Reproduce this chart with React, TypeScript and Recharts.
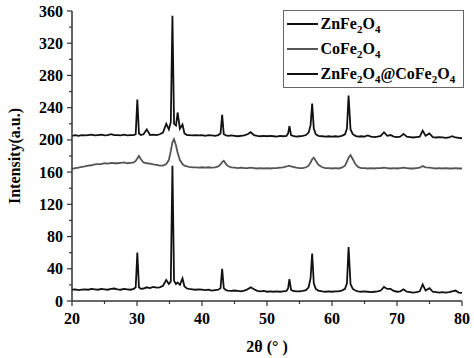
import { LineChart, Line, XAxis, YAxis, Legend } from "recharts";

document.body.style.margin = "0";

// 2θ positions (deg), shared by all three patterns
const twoTheta = [
  20, 20.5, 21, 21.5, 22, 22.5, 23, 23.5, 24, 24.5, 25, 25.5, 26, 26.5, 27, 27.5, 28, 28.5, 29, 29.5,
  29.8, 30.05, 30.3, 30.6,
  31, 31.5, 32, 32.5, 33, 33.5, 34, 34.5, 34.9,
  35.2, 35.45, 35.7, 36.0, 36.25, 36.6, 37.0, 37.3, 37.7,
  38, 38.5, 39, 39.5, 40, 40.5, 41, 41.5, 42, 42.5,
  42.85, 43.1, 43.35, 43.7,
  44, 44.5, 45, 45.5, 46, 46.5, 47, 47.5, 48, 48.5, 49, 49.5, 50, 50.5, 51, 51.5, 52, 52.5, 53,
  53.25, 53.45, 53.7,
  54, 54.5, 55, 55.5, 56, 56.4, 56.7, 56.95, 57.2, 57.5, 57.9,
  58.5, 59, 59.5, 60, 60.5, 61, 61.5, 62,
  62.3, 62.55, 62.85, 63.2, 63.6,
  64, 64.5, 65, 65.5, 66, 66.5, 67, 67.5, 68, 68.5, 69, 69.5, 70, 70.5, 71, 71.5, 72, 72.5, 73, 73.5,
  73.95, 74.4, 75, 75.5, 76, 76.5, 77, 77.5, 78, 78.5, 79, 79.5, 80,
];

const znFe2O4 = [
  205, 206, 205, 206, 205.5, 206, 206.5, 205.5, 206, 206.5, 205.5, 206, 207, 206, 206, 205.5, 206.5, 205.5, 206, 206,
  207, 250, 208, 206,
  207, 213, 206, 206.5, 206, 207, 209, 220, 213,
  222, 354, 220, 218, 234, 214, 219, 208, 206,
  206, 205.5, 206, 205.5, 206, 205, 206, 205.5, 205, 206,
  208, 231, 207, 205.5,
  205, 205.5, 205, 204.5, 205, 205.5, 207, 209.5, 206, 205, 204.5, 205, 204.5, 205, 204.5, 204, 205, 204.5, 205,
  208, 217, 206,
  205, 204, 204.5, 205, 206, 209, 218, 245, 214, 207, 205,
  204.5, 204, 204.5, 204, 204.5, 204, 205, 207,
  214, 255, 213, 207, 205,
  204, 204.5, 204, 205.5, 204, 203.5, 204, 205, 209.5, 205, 206, 204, 203.5, 204, 207.5, 204, 203.5, 203, 203.5, 204,
  211.5, 205, 208, 203.5, 203, 203.5, 203, 202.5, 203, 204.5, 203, 202.5, 202,
];

const coFe2O4 = [
  164, 165, 165.5, 166.5, 167, 168, 168.5, 169.5, 170, 170, 171, 170.5, 171.5, 171, 171, 171.5, 172, 171, 171.5, 172,
  174, 177, 180, 176,
  172, 171, 170.5, 169.5, 169, 168, 168, 170, 175,
  186, 197, 201, 193, 184, 175, 170, 168, 167,
  166.5, 166, 166, 165.5, 166, 165.5, 166, 165.5, 166, 167,
  169.5, 172.5, 174, 170,
  167.5, 166, 165.5, 165, 165.5, 165, 165, 165.5, 165, 164.5, 165, 164.5, 165, 164.5, 165, 165, 165.5, 166, 167,
  167.5, 168, 167,
  166.5, 165.5, 165, 165, 166, 168, 172, 176, 178, 174, 169,
  166, 165, 165, 164.5, 165, 164.5, 165.5, 168,
  173, 178, 181, 176, 170,
  166.5, 165, 165, 164.5, 165, 164.5, 165, 165, 165.5, 165, 164.5, 165, 164.5, 165, 165.5, 165, 164.5, 164.5, 165, 165.5,
  167.5, 166, 165.5, 165, 164.5, 165, 164.5, 165, 164.5, 164.5, 165, 164.5, 164.5,
];

const znFe2O4CoFe2O4 = [
  14, 14.5, 13.5, 14, 14.5, 14, 15, 14.5, 14, 15, 14.5, 14, 15, 15.5, 14.5, 14, 15, 14.5, 14, 15,
  17, 60, 17, 15,
  15.5, 17, 16, 17.5, 16.5, 17, 19, 26, 21,
  24, 168, 25, 21, 23, 20, 28, 18, 15.5,
  15, 14.5, 14, 14.5, 14, 13.5, 14, 13, 13.5, 14,
  16, 40, 16, 13.5,
  13, 12.5, 13, 12.5, 12, 13, 14.5, 17, 14.5, 12.5, 12, 12.5, 11.5, 12, 11.5, 12, 11.5, 12, 12.5,
  16, 27, 14,
  12.5, 12, 12, 12.5, 13.5, 17, 28, 59, 22, 15, 13,
  12, 11.5, 12, 11.5, 12, 12, 13, 15,
  22, 67, 21, 15, 13,
  12, 11.5, 12, 11.5, 11, 11.5, 12, 13, 17.5, 15, 15, 12.5, 11.5, 12, 14.5, 11.5, 11, 10.5, 11, 12,
  20.5, 13, 16, 11.5, 11, 10.5, 11, 10.5, 11, 12, 13, 10.5, 10,
];

const seriesNames = ["ZnFe2O4", "CoFe2O4", "ZnFe2O4@CoFe2O4"];
const seriesColors = ["#111", "#555", "#111"];

const xTicks = [20, 25, 30, 35, 40, 45, 50, 55, 60, 65, 70, 75, 80];
const yTicks = [0, 20, 40, 60, 80, 100, 120, 140, 160, 180, 200, 220, 240, 260, 280, 300, 320, 340, 360];

const data = twoTheta.map((t, i) => ({
  t,
  zn: znFe2O4[i],
  co: coFe2O4[i],
  zc: znFe2O4CoFe2O4[i],
}));

const FONT = '"Liberation Serif", "Times New Roman", serif';
const AXIS = "#333";

function XTick({ x, y, payload }: any) {
  const major = payload.value % 10 === 0;
  return (
    <g>
      <line x1={x} x2={x} y1={y} y2={y + (major ? 5 : 3)} stroke={AXIS} strokeWidth={1.2} />
      {major && (
        <text x={x} y={y + 23} textAnchor="middle" fontFamily={FONT} fontWeight="bold" fontSize={16} fill="#000">
          {payload.value}
        </text>
      )}
    </g>
  );
}

function YTick({ x, y, payload }: any) {
  const major = payload.value % 40 === 0;
  return (
    <g>
      <line x1={x} x2={x - (major ? 5 : 3)} y1={y} y2={y} stroke={AXIS} strokeWidth={1.2} />
      {major && (
        <text x={x - 9} y={y} dy="0.35em" textAnchor="end" fontFamily={FONT} fontWeight="bold" fontSize={16} fill="#000">
          {payload.value}
        </text>
      )}
    </g>
  );
}

function Formula({ text }: { text: string }) {
  const parts = text.split(/(\d)/).filter((p) => p !== "");
  return (
    <span>
      {parts.map((p, i) =>
        /\d/.test(p) ? (
          <sub key={i} style={{ fontSize: 11, verticalAlign: "-4px", lineHeight: 0 }}>
            {p}
          </sub>
        ) : (
          <span key={i}>{p}</span>
        )
      )}
    </span>
  );
}

function LegendBox() {
  return (
    <div
      style={{
        boxSizing: "border-box",
        width: 181,
        height: 78,
        border: "1.5px solid #666",
        background: "#fff",
        fontFamily: FONT,
        fontWeight: "bold",
        fontSize: 16,
        color: "#000",
      }}
    >
      {seriesNames.map((name, i) => (
        <div key={name} style={{ display: "flex", alignItems: "center", height: 25 }}>
          <div style={{ width: 31, height: 2, marginLeft: 2.5, background: seriesColors[i] }} />
          <div style={{ marginLeft: 3, lineHeight: "16px" }}>
            <Formula text={name} />
          </div>
        </div>
      ))}
    </div>
  );
}

export default function App() {
  return (
    <LineChart width={474} height={358} data={data} margin={{ top: 11, right: 12, bottom: 0, left: 0 }}>
      <XAxis
        dataKey="t"
        type="number"
        domain={[20, 80]}
        ticks={xTicks}
        interval={0}
        tickSize={0}
        tickMargin={0}
        tickLine={false}
        tick={<XTick />}
        height={57}
        stroke={AXIS}
        strokeWidth={1.5}
        allowDataOverflow
        label={{ value: "2θ (° )", position: "insideBottom", offset: 6, fontFamily: FONT, fontWeight: "bold", fontSize: 16, fill: "#000" }}
      />
      <XAxis xAxisId="top" orientation="top" dataKey="t" type="number" domain={[20, 80]} height={0} tick={false} tickLine={false} stroke={AXIS} strokeWidth={1.5} />
      <YAxis
        type="number"
        domain={[0, 360]}
        ticks={yTicks}
        interval={0}
        tickSize={0}
        tickMargin={0}
        tickLine={false}
        tick={<YTick />}
        width={72}
        stroke={AXIS}
        strokeWidth={1.5}
        allowDataOverflow
        label={{
          value: "Intensity(a.u.)",
          angle: -90,
          position: "insideLeft",
          offset: 0,
          style: { textAnchor: "middle" },
          dx: 14,
          fontFamily: FONT,
          fontWeight: "bold",
          fontSize: 16,
          fill: "#000",
        }}
      />
      <YAxis yAxisId="right" orientation="right" domain={[0, 360]} width={0} tick={false} tickLine={false} stroke={AXIS} strokeWidth={1.5} />
      <Legend
        layout="vertical"
        align="center"
        verticalAlign="middle"
        wrapperStyle={{ top: 10, left: 283, width: 181, height: 78 }}
        content={() => <LegendBox />}
      />
      <Line dataKey="zn" name={seriesNames[0]} type="linear" stroke={seriesColors[0]} strokeWidth={1.8} dot={false} isAnimationActive={false} />
      <Line dataKey="co" name={seriesNames[1]} type="linear" stroke={seriesColors[1]} strokeWidth={1.8} dot={false} isAnimationActive={false} />
      <Line dataKey="zc" name={seriesNames[2]} type="linear" stroke={seriesColors[2]} strokeWidth={1.8} dot={false} isAnimationActive={false} />
    </LineChart>
  );
}
